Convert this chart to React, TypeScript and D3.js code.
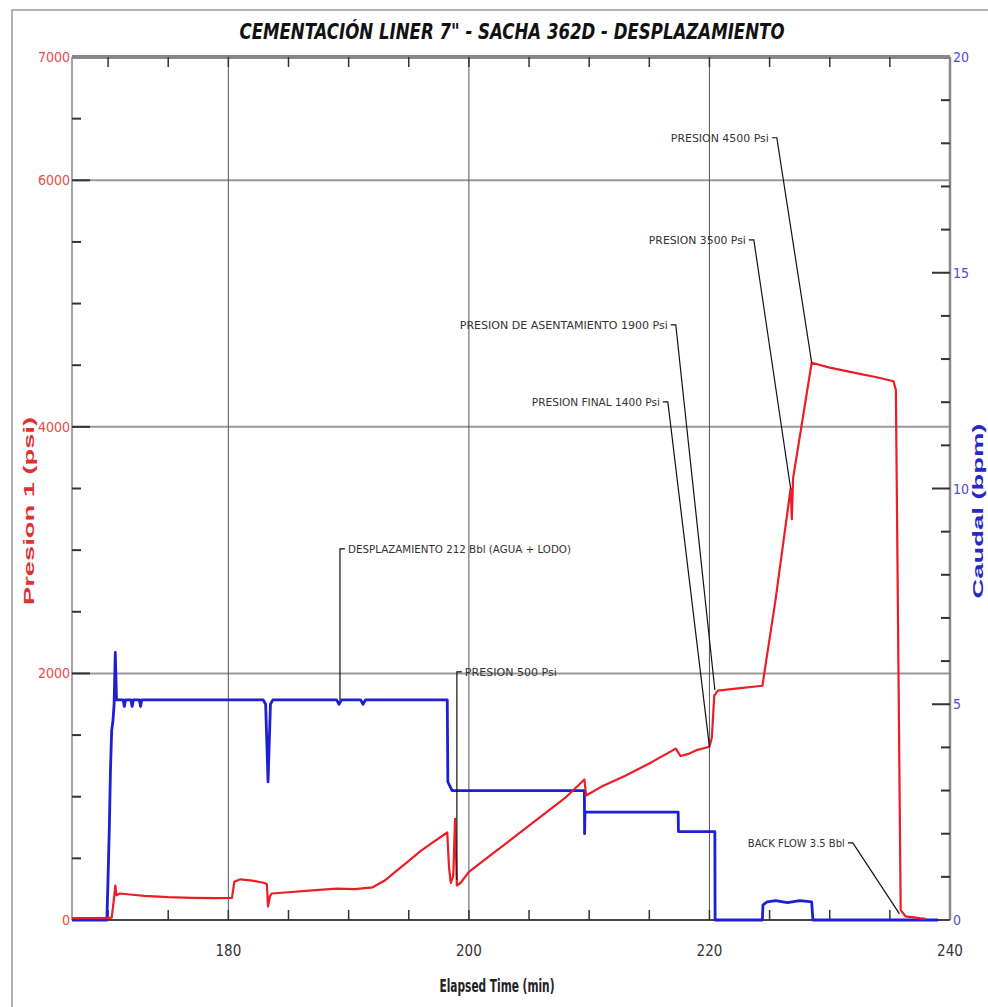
import React from "react";
import * as d3 from "d3";

// Presion 1 (psi) vs elapsed time (min)
const presTime = [
  167.0, 169.5, 170.3, 170.5, 170.6, 170.7, 171.0, 172.0, 173.0, 175.0, 177.0, 179.0,
  180.3, 180.5, 181.0, 182.0, 183.0, 183.2, 183.3, 183.45, 183.6, 185.0, 187.0, 189.0,
  190.5, 192.0, 193.0, 194.0, 195.0, 196.0, 197.0, 198.2, 198.35, 198.5, 198.7, 198.85,
  199.0, 199.3, 200.0, 202.0, 204.0, 206.0, 208.0, 209.6, 209.75, 211.0, 213.0, 215.0,
  217.2, 217.6, 218.2, 219.0, 220.0, 220.2, 220.4, 220.7, 222.0, 224.4, 225.5, 226.75,
  226.85, 226.95, 228.5, 230.0, 232.0, 234.0, 235.3, 235.5, 235.9, 236.3, 237.5, 238.0,
];
const presPsi = [
  15, 15, 20, 180, 280, 200, 215, 205, 195, 185, 180, 178,
  180, 310, 330, 320, 300, 290, 110, 190, 215, 225, 240, 255,
  250, 265, 320, 400, 480, 560, 630, 710, 420, 300, 360, 820,
  280, 300, 390, 540, 690, 840, 990, 1140, 1010, 1080, 1170, 1270,
  1390, 1330, 1345, 1380, 1405, 1480, 1820, 1860, 1875, 1900, 2600, 3500,
  3250, 3580, 4520, 4480, 4440, 4400, 4370, 4300, 80, 30, 15, 10,
];

// Caudal (bpm) vs elapsed time (min)
const flowTime = [
  167.0, 169.9, 170.0, 170.1, 170.2, 170.3, 170.4, 170.5, 170.6, 170.7, 171.0, 171.25,
  171.35, 171.45, 171.9, 172.0, 172.1, 172.6, 172.7, 172.8, 182.9, 183.1, 183.3, 183.5,
  183.7, 189.0, 189.2, 189.4, 191.0, 191.2, 191.4, 198.2, 198.25, 198.6, 209.6, 209.62,
  209.65, 217.4, 217.42, 220.45, 220.47, 224.4, 224.45, 224.8, 225.5, 226.5, 227.5, 228.5,
  228.6, 239.0,
];
const flowBpm = [
  0, 0, 1.0, 2.1, 3.5, 4.4, 4.6, 5.0, 6.2, 5.1, 5.1, 5.1,
  4.95, 5.1, 5.1, 4.95, 5.1, 5.1, 4.95, 5.1, 5.1, 5.0, 3.2, 5.0,
  5.1, 5.1, 5.0, 5.1, 5.1, 5.0, 5.1, 5.1, 3.2, 3.0, 3.0, 2.0,
  2.5, 2.5, 2.05, 2.05, 0, 0, 0.35, 0.42, 0.45, 0.4, 0.45, 0.42,
  0, 0,
];

const xTickLabels = [180, 200, 220, 240];
const psiTickLabels = [0, 2000, 4000, 6000, 7000];
const bpmTickLabels = [0, 5, 10, 15, 20];

// callouts: text, bend point (time, psi), target (time, value on its axis)
const calloutText = [
  "DESPLAZAMIENTO 212 Bbl (AGUA + LODO)",
  "PRESION 500 Psi",
  "PRESION FINAL 1400 Psi",
  "PRESION DE ASENTAMIENTO 1900 Psi",
  "PRESION 3500 Psi",
  "PRESION 4500 Psi",
  "BACK FLOW 3.5 Bbl",
];
const calloutBend = [
  [189.28, 3010], [199.0, 2012], [216.54, 4203], [217.2, 4828],
  [223.69, 5517], [225.6, 6345], [231.92, 625],
];
const calloutTarget = [
  [189.28, 5.1, "bpm"], [199.0, 325, "psi"], [220.0, 1404, "psi"], [220.45, 1866, "psi"],
  [226.75, 3500, "psi"], [228.5, 4520, "psi"], [235.8, 50, "psi"],
];
const calloutSide = ["left", "left", "right", "right", "right", "right", "right"];
const calloutWidth = [223, 92, 128, 208, 97, 98, 97];

const W = 988;
const H = 1007;
const L = 72, R = 950, T = 57, B = 920;
const narrow = "'Liberation Sans Narrow', 'DejaVu Sans Condensed', 'Arial Narrow', sans-serif";

export default function App() {
  const x = d3.scaleLinear().domain([167, 240]).range([L, R]);
  const yP = d3.scaleLinear().domain([0, 7000]).range([B, T]);
  const yQ = d3.scaleLinear().domain([0, 20]).range([B, T]);

  const presLine = d3
    .line<number>()
    .x((d, i) => x(presTime[i]))
    .y((d) => yP(d));
  const flowLine = d3
    .line<number>()
    .x((d, i) => x(flowTime[i]))
    .y((d) => yQ(d));

  const psiMinor = d3.range(500, 7000, 500).filter((v) => v % 2000 !== 0);
  const bpmMinor = d3.range(1, 20, 1).filter((v) => v % 5 !== 0);
  const timeTicks = d3.range(170, 240, 5);

  return (
    <svg width={W} height={H} style={{ position: "absolute", left: 0, top: 0, background: "#fff" }}>
      {/* outer frame */}
      <path d={`M12,${H} L12,10 L${W},10`} fill="none" stroke="#999" strokeWidth={1.5} />

      <text
        x={512}
        y={39}
        textAnchor="middle"
        fontFamily={narrow}
        fontWeight="bold"
        fontStyle="italic"
        fontSize={22}
        textLength={545}
        lengthAdjust="spacingAndGlyphs"
        fill="#111"
      >
        CEMENTACIÓN LINER 7" - SACHA 362D - DESPLAZAMIENTO
      </text>

      {/* grid */}
      {[2000, 4000, 6000].map((v) => (
        <line key={"gp" + v} x1={L} x2={R} y1={yP(v)} y2={yP(v)} stroke="#999" strokeWidth={2} />
      ))}
      {[180, 200, 220].map((t) => (
        <line key={"gt" + t} x1={x(t)} x2={x(t)} y1={T} y2={B} stroke="#555" strokeWidth={1} />
      ))}

      {/* frame of the plot */}
      <line x1={L} x2={L} y1={T} y2={B} stroke="#888" strokeWidth={1.5} />
      <line x1={R} x2={R} y1={T} y2={B} stroke="#888" strokeWidth={2.5} />
      <line x1={L} x2={R} y1={T} y2={T} stroke="#888" strokeWidth={4} />
      <line x1={L} x2={R} y1={B} y2={B} stroke="#444" strokeWidth={2} />

      {/* ticks */}
      {psiMinor.map((v) => (
        <line key={"pm" + v} x1={L} x2={L + 9} y1={yP(v)} y2={yP(v)} stroke="#333" strokeWidth={2} />
      ))}
      {[2000, 4000, 6000].map((v) => (
        <line key={"pM" + v} x1={L} x2={L + 18} y1={yP(v)} y2={yP(v)} stroke="#333" strokeWidth={2} />
      ))}
      {bpmMinor.map((v) => (
        <line key={"qm" + v} x1={R - 9} x2={R} y1={yQ(v)} y2={yQ(v)} stroke="#333" strokeWidth={2} />
      ))}
      {[5, 10, 15].map((v) => (
        <line key={"qM" + v} x1={R - 18} x2={R} y1={yQ(v)} y2={yQ(v)} stroke="#333" strokeWidth={2} />
      ))}
      {timeTicks.map((t) => (
        <g key={"tt" + t}>
          <line x1={x(t)} x2={x(t)} y1={B} y2={B - 10} stroke="#333" strokeWidth={1.5} />
          <line x1={x(t)} x2={x(t)} y1={T} y2={T + 10} stroke="#333" strokeWidth={1.5} />
        </g>
      ))}

      {/* tick labels */}
      {psiTickLabels.map((v) => (
        <text key={"lp" + v} x={L - 2} y={yP(v) + 5} textAnchor="end" fontFamily={narrow} fontSize={14} fill="#e84a4a">
          {v}
        </text>
      ))}
      {bpmTickLabels.map((v) => (
        <text key={"lq" + v} x={R + 3} y={yQ(v) + 5} textAnchor="start" fontFamily={narrow} fontSize={14} fill="#4a4adf">
          {v}
        </text>
      ))}
      {xTickLabels.map((t) => (
        <text key={"lx" + t} x={x(t)} y={956} textAnchor="middle" fontFamily={narrow} fontSize={15} fill="#333">
          {t}
        </text>
      ))}

      {/* axis titles */}
      <text
        transform="translate(34,511) rotate(-90)"
        textAnchor="middle"
        fontFamily="'Liberation Sans', Arial, sans-serif"
        fontWeight="bold"
        fontSize={15}
        fill="#e03030"
        textLength={188}
        lengthAdjust="spacingAndGlyphs"
      >
        Presion 1 (psi)
      </text>
      <text
        transform="translate(983,511) rotate(-90)"
        textAnchor="middle"
        fontFamily="'Liberation Sans', Arial, sans-serif"
        fontWeight="bold"
        fontSize={15}
        fill="#2828c8"
        textLength={175}
        lengthAdjust="spacingAndGlyphs"
      >
        Caudal (bpm)
      </text>
      <text
        x={497}
        y={992}
        textAnchor="middle"
        fontFamily={narrow}
        fontWeight="bold"
        fontSize={18}
        fill="#222"
        textLength={115}
        lengthAdjust="spacingAndGlyphs"
      >
        Elapsed Time (min)
      </text>

      {/* series */}
      <path d={flowLine(flowBpm) || ""} fill="none" stroke="#1e1ed6" strokeWidth={2.8} strokeLinejoin="round" />
      <path d={presLine(presPsi) || ""} fill="none" stroke="#ee1c24" strokeWidth={2.2} strokeLinejoin="round" />

      {/* callouts */}
      {calloutText.map((txt, i) => {
        const [bt, bv] = calloutBend[i];
        const [tt, tv, ax] = calloutTarget[i] as [number, number, string];
        const bx = x(bt);
        const by = yP(bv);
        const tx = x(tt);
        const ty = ax === "bpm" ? yQ(tv) : yP(tv);
        const left = calloutSide[i] === "left";
        const stub = left ? bx + 5 : bx - 5;
        const textX = left ? bx + 8 : bx - 8;
        return (
          <g key={"c" + i}>
            <polyline
              points={`${stub},${by} ${bx},${by} ${tx},${ty}`}
              fill="none"
              stroke="#111"
              strokeWidth={1.2}
            />
            <text
              x={textX}
              y={by + 4}
              textAnchor={left ? "start" : "end"}
              fontFamily={narrow}
              fontSize={11}
              textLength={calloutWidth[i]}
              lengthAdjust="spacingAndGlyphs"
              fill="#333"
            >
              {txt}
            </text>
          </g>
        );
      })}
    </svg>
  );
}
